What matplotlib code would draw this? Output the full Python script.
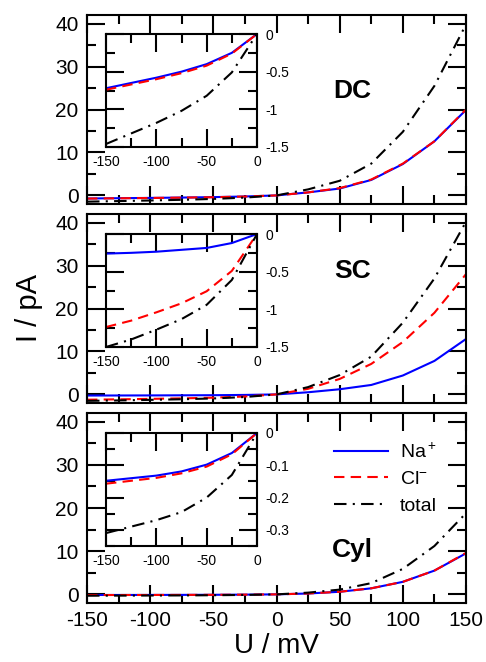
import matplotlib
matplotlib.use("Agg")
import matplotlib.pyplot as plt
from matplotlib.ticker import MultipleLocator

plt.rcParams['font.family'] = ['Liberation Sans', 'DejaVu Sans']
plt.rcParams['mathtext.fontset'] = 'custom'
plt.rcParams['mathtext.rm'] = 'Liberation Sans'
plt.rcParams['mathtext.it'] = 'Liberation Sans:italic'
plt.rcParams['axes.unicode_minus'] = False

# voltage points (mV)
u = [-150, -125, -100, -75, -50, -25, 0, 25, 50, 75, 100, 125, 150]

# currents (pA)
dc_na = [-0.72, -0.65, -0.58, -0.50, -0.40, -0.25, 0, 0.7, 1.6, 3.6, 7.3, 12.6, 19.9]
dc_cl = [-0.74, -0.67, -0.60, -0.52, -0.42, -0.26, 0, 0.7, 1.7, 3.7, 7.4, 12.6, 20.0]
dc_tot = [-1.46, -1.32, -1.18, -1.02, -0.82, -0.51, 0, 1.4, 3.4, 7.4, 14.8, 25.5, 39.8]

sc_na = [-0.26, -0.25, -0.235, -0.21, -0.185, -0.12, 0, 0.5, 1.2, 2.2, 4.4, 7.8, 12.9]
sc_cl = [-1.235, -1.15, -1.04, -0.92, -0.76, -0.49, 0, 1.3, 3.6, 7.1, 12.2, 19.0, 28.0]
sc_tot = [-1.5, -1.4, -1.27, -1.13, -0.94, -0.61, 0, 1.7, 4.5, 8.8, 16.7, 27.0, 40.2]

cyl_na = [-0.148, -0.14, -0.132, -0.119, -0.098, -0.062, 0, 0.2, 0.6, 1.4, 2.9, 5.5, 9.5]
cyl_cl = [-0.157, -0.148, -0.139, -0.125, -0.104, -0.066, 0, 0.2, 0.6, 1.4, 2.9, 5.5, 9.6]
cyl_tot = [-0.31, -0.29, -0.27, -0.245, -0.20, -0.13, 0, 0.4, 1.1, 2.6, 5.9, 11.2, 18.8]

names = ['DC', 'SC', 'Cyl']
na_all = [dc_na, sc_na, cyl_na]
cl_all = [dc_cl, sc_cl, cyl_cl]
tot_all = [dc_tot, sc_tot, cyl_tot]
inset_ylim = [(-1.5, 0), (-1.5, 0), (-0.35, 0)]
inset_major = [0.5, 0.5, 0.1]
inset_minor = [0.25, 0.25, 0.05]

W, H = 486, 662
fig = plt.figure(figsize=(W / 100, H / 100), dpi=100)

# pixel boxes: (top, bottom) of main panels and insets
main_tb = [(15, 204), (214, 403), (413, 603)]
inset_tb = [(34, 147), (234, 347), (433, 546)]
main_lr = (87, 466)
inset_lr = (106, 257)
label_pos = [(0.70, 0.60), (0.70, 0.70), (0.70, 0.28)]


def box(lr, tb):
    l, r = lr
    t, b = tb
    return [l / W, 1 - b / H, (r - l) / W, (b - t) / H]


def style(ax, size):
    for s in ax.spines.values():
        s.set_linewidth(1.5)
    ax.tick_params(which='both', direction='in', top=True, right=True,
                   width=1.5, labelsize=size, pad=6)
    ax.tick_params(which='major', length=13)
    ax.tick_params(which='minor', length=6.5)


lw = 1.5
for i in range(3):
    ax = fig.add_axes(box(main_lr, main_tb[i]))
    ax.plot(u, na_all[i], color='#0000ff', lw=lw, label='Na$^+$')
    ax.plot(u, cl_all[i], color='#ff0000', lw=lw, ls=(0, (5, 3)), label='Cl$^{-}$')
    ax.plot(u, tot_all[i], color='black', lw=lw, ls=(0, (6, 3, 1, 3)), label='total')
    ax.set_xlim(-150, 150)
    ax.set_ylim(-2, 42)
    ax.xaxis.set_major_locator(MultipleLocator(50))
    ax.xaxis.set_minor_locator(MultipleLocator(25))
    ax.yaxis.set_major_locator(MultipleLocator(10))
    ax.yaxis.set_minor_locator(MultipleLocator(5))
    style(ax, 15)
    if i < 2:
        ax.tick_params(labelbottom=False)
    ax.text(label_pos[i][0], label_pos[i][1], names[i], transform=ax.transAxes,
            ha='center', va='center', fontsize=19, fontweight='bold')
    if i == 1:
        ax.set_ylabel('I / pA', fontsize=21)
        ax.yaxis.set_label_coords(-0.115, 0.5)
    if i == 2:
        ax.set_xlabel('U / mV', fontsize=20, labelpad=2)
        ax.legend(loc='upper left', bbox_to_anchor=(0.63, 0.885), frameon=False,
                  fontsize=14, handlelength=2.8, labelspacing=0.45,
                  handletextpad=0.6, borderaxespad=0)

    ins = fig.add_axes(box(inset_lr, inset_tb[i]))
    ins.plot(u, na_all[i], color='#0000ff', lw=lw)
    ins.plot(u, cl_all[i], color='#ff0000', lw=lw, ls=(0, (5, 3)))
    ins.plot(u, tot_all[i], color='black', lw=lw, ls=(0, (6, 3, 1, 3)))
    ins.set_xlim(-150, 0)
    ins.set_ylim(*inset_ylim[i])
    ins.xaxis.set_major_locator(MultipleLocator(50))
    ins.xaxis.set_minor_locator(MultipleLocator(25))
    ins.yaxis.set_major_locator(MultipleLocator(inset_major[i]))
    ins.yaxis.set_minor_locator(MultipleLocator(inset_minor[i]))
    style(ins, 10)
    ins.tick_params(labelleft=False, labelright=True)
    ins.yaxis.set_major_formatter(plt.FuncFormatter(lambda v, p: '%g' % round(v, 3)))

fig.savefig('out.png', dpi=100)
